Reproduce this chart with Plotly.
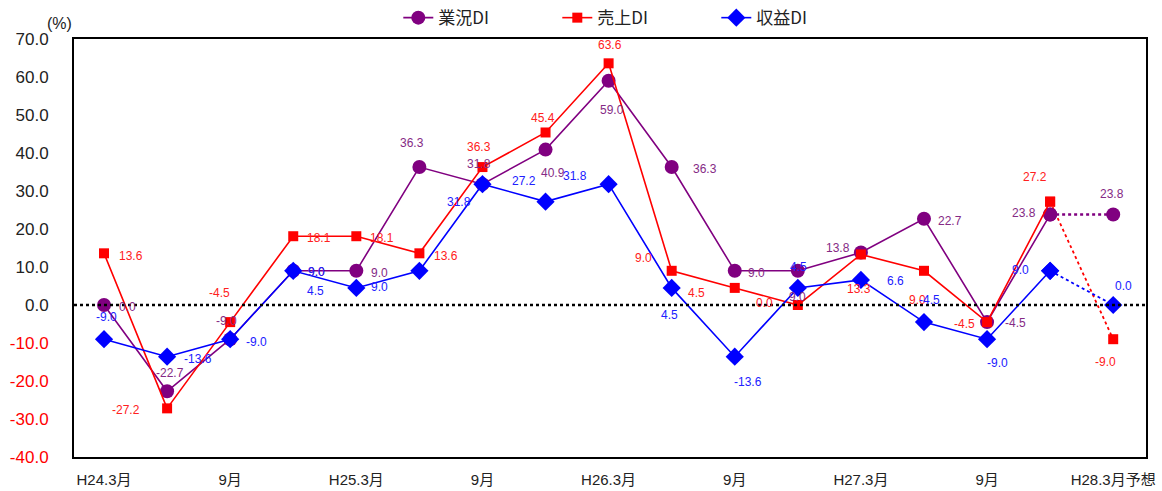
import plotly.graph_objects as go

# ---- data ----
categories = ["H24.3月", "6月", "9月", "12月", "H25.3月", "6月", "9月", "12月", "H26.3月",
              "6月", "9月", "12月", "H27.3月", "6月", "9月", "12月", "H28.3月予想"]
gyoukyou = [0.0, -22.7, -9.0, 9.0, 9.0, 36.3, 31.8, 40.9, 59.0, 36.3, 9.0, 9.0, 13.8, 22.7, -4.5, 23.8, 23.8]
uriage = [13.6, -27.2, -4.5, 18.1, 18.1, 13.6, 36.3, 45.4, 63.6, 9.0, 4.5, 0.0, 13.3, 9.0, -4.5, 27.2, -9.0]
shueki = [-9.0, -13.6, -9.0, 9.0, 4.5, 9.0, 31.8, 27.2, 31.8, 4.5, -13.6, 4.5, 6.6, -4.5, -9.0, 9.0, 0.0]
series_names = ["業況DI", "売上DI", "収益DI"]
tick_idx = [0, 2, 4, 6, 8, 10, 12, 14, 16]
ytick_vals = [70, 60, 50, 40, 30, 20, 10, 0, -10, -20, -30, -40]

# ---- styles ----
colors = ["#800080", "#FF0000", "#0000FF"]
label_colors = ["#852a85", "#FF2020", "#2020FF"]
symbols = ["circle", "square", "diamond"]
msizes = [14, 10, 14]
# label offsets (pixels) relative to each point
off_g = [(23, 2), (3, -18), (-4, -18), (23, 1), (23, 2), (-7, -24), (-3, -20), (7, 23), (3, 29),
         (33, 2), (22, 2), (0, 26), (-23, -5), (26, 2), (28, 1), (-26, -2), (-1, -21)]
off_u = [(27, 3), (-41, 2), (-11, -29), (26, 2), (26, 2), (27, 3), (-3, -20), (-3, -14), (1, -18),
         (-28, -13), (-38, 5), (-33, -2), (-2, 35), (-6, 29), (-23, 2), (-15, -25), (-8, 23)]
off_s = [(2, -22), (31, 2), (26, 3), (23, 1), (-41, 3), (-40, 16), (-23, 18), (-22, -21), (-34, -8),
         (-2, 27), (13, 25), (1, -21), (35, 1), (6, -22), (10, 24), (-30, -1), (10, -19)]

fig = go.Figure()
xs = list(range(len(categories)))
all_series = [gyoukyou, uriage, shueki]
fwidths = [2.5, 1.8, 1.8]

for k, vals in enumerate(all_series):
    # forecast (dotted) segment
    fig.add_trace(go.Scatter(
        x=xs[-2:], y=vals[-2:], mode="lines+markers", showlegend=False,
        line=dict(color=colors[k], width=fwidths[k], dash="dot"),
        marker=dict(symbol=symbols[k], size=msizes[k], color=colors[k]),
        hoverinfo="skip"))
for k, vals in enumerate(all_series):
    fig.add_trace(go.Scatter(
        x=xs[:-1], y=vals[:-1], mode="lines+markers", name=series_names[k],
        line=dict(color=colors[k], width=1.6),
        marker=dict(symbol=symbols[k], size=msizes[k], color=colors[k])))

annotations = []
for k, (vals, offs) in enumerate(zip(all_series, [off_g, off_u, off_s])):
    for i, v in enumerate(vals):
        annotations.append(dict(
            x=i, y=v, xref="x", yref="y", text=f"{v:.1f}", showarrow=False,
            xshift=offs[i][0], yshift=-offs[i][1],
            font=dict(family="Arial, Liberation Sans", size=12, color=label_colors[k])))
annotations.append(dict(x=0, y=1, xref="paper", yref="paper", text="(%)",
                        showarrow=False, xanchor="right", yanchor="middle", yshift=16,
                        font=dict(family="Arial, Liberation Sans", size=16, color="#222")))

ytext = []
for v in ytick_vals:
    if v < 0:
        ytext.append(f"<span style='color:#FF0000'>{v:.1f}</span>")
    else:
        ytext.append(f"{v:.1f}")

fig.update_layout(
    width=1162, height=491,
    margin=dict(l=74, r=16, t=39, b=34, autoexpand=False),
    paper_bgcolor="white", plot_bgcolor="white",
    showlegend=True,
    legend=dict(orientation="h", x=0.525, xanchor="center", y=1.05, yanchor="middle", yref="paper",
                font=dict(family="Noto Sans CJK JP, Arial", size=17, color="#222"),
                entrywidth=114, entrywidthmode="pixels", bgcolor="rgba(0,0,0,0)"),
    annotations=annotations,
    shapes=[dict(type="line", xref="paper", x0=0, x1=1, yref="y", y0=0, y1=0,
                 line=dict(color="black", width=2.5, dash="dot"))],
    xaxis=dict(range=[-0.476, 16.52], tickmode="array", tickvals=tick_idx,
               ticktext=[categories[i] for i in tick_idx], showgrid=False, zeroline=False,
               showline=True, mirror=True, linecolor="black", linewidth=2,
               ticks="", ticklabelstandoff=8, automargin=False,
               tickfont=dict(family="Arial, Noto Sans CJK JP", size=15, color="#222")),
    yaxis=dict(range=[-40, 70], tickmode="array", tickvals=ytick_vals, ticktext=ytext,
               showgrid=False, zeroline=False, showline=True, mirror=True,
               linecolor="black", linewidth=2, ticks="", ticklabelstandoff=20, automargin=False,
               tickfont=dict(family="Arial, Liberation Sans", size=17, color="#222")),
)

fig.write_html("out.html")
